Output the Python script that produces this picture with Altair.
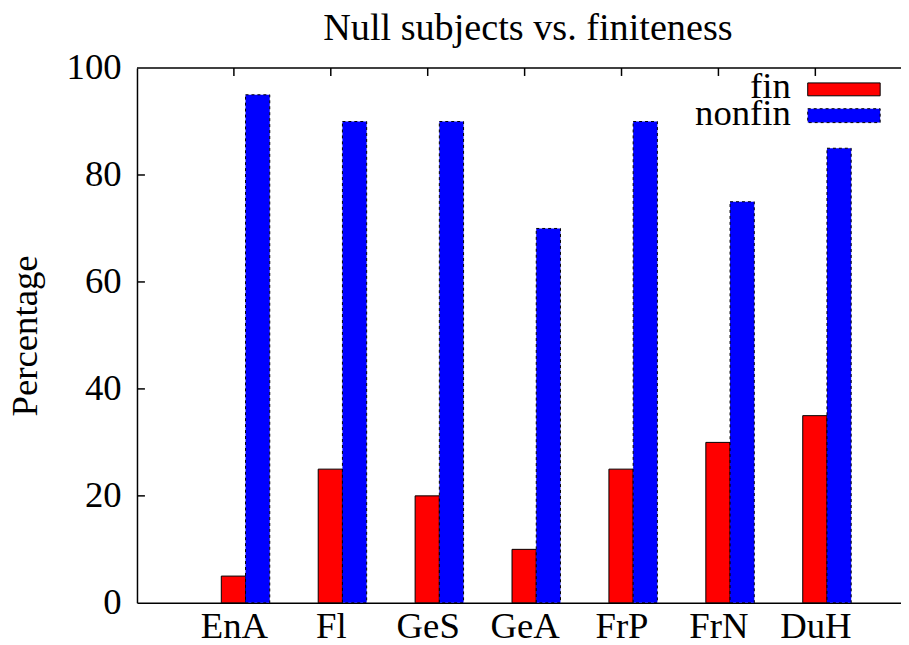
import altair as alt
import pandas as pd

categories = ["EnA", "Fl", "GeS", "GeA", "FrP", "FrN", "DuH"]
fin = [5, 25, 20, 10, 25, 30, 35]
nonfin = [95, 90, 90, 70, 90, 75, 85]
series_names = ["fin", "nonfin"]
series_colors = ["#ff0000", "#0000ff"]
y_ticks = [0, 20, 40, 60, 80, 100]
x_positions = list(range(1, len(categories) + 1))

FONT = "Liberation Serif"
FS = 37
W, H = 770, 539
XMAX = 7.884

rows = []
for i, c in enumerate(categories):
    pos = x_positions[i]
    rows.append(dict(cat=c, series="fin", value=fin[i], x0=pos - 0.13, x1=pos + 0.12))
    rows.append(dict(cat=c, series="nonfin", value=nonfin[i], x0=pos + 0.12, x1=pos + 0.37))
df = pd.DataFrame(rows)

xscale = alt.Scale(domain=[0, XMAX], nice=False, zero=False)
yscale = alt.Scale(domain=[0, 100], nice=False)

label_expr = "[" + ",".join(f"'{c}'" for c in categories) + "][datum.value-1]"

x_axis = alt.Axis(orient="bottom", values=x_positions, labelExpr=label_expr, tickSize=0,
                  domain=True, domainColor="black", domainWidth=1.5, labelFont=FONT,
                  labelFontSize=FS, labelColor="black", labelPadding=6, grid=False, title=None,
                  labelBaseline="top")
y_axis = alt.Axis(orient="left", values=y_ticks, tickSize=0, labelPadding=16, labelFont=FONT,
                  labelFontSize=FS, labelColor="black", domain=True, domainColor="black",
                  domainWidth=1.5, grid=False,
                  title="Percentage", titleFont=FONT, titleFontSize=FS, titleFontWeight="normal",
                  titleColor="black", titleAngle=-90, titleX=-112, titleY=H / 2,
                  titleAlign="center", titleBaseline="middle", labelBaseline="middle")

bars_fin = alt.Chart(df[df.series == "fin"]).mark_rect(
    color=series_colors[0], stroke="black", strokeWidth=1
).encode(
    x=alt.X("x0:Q", scale=xscale, axis=x_axis),
    x2="x1:Q",
    y=alt.Y("value:Q", scale=yscale, axis=y_axis),
    y2=alt.datum(0),
)

bars_nonfin = alt.Chart(df[df.series == "nonfin"]).mark_rect(
    color=series_colors[1], stroke="black", strokeWidth=1, strokeDash=[3, 3]
).encode(
    x=alt.X("x0:Q", scale=xscale, axis=x_axis),
    x2="x1:Q",
    y=alt.Y("value:Q", scale=yscale, axis=y_axis),
    y2=alt.datum(0),
)

top_border = alt.Chart(pd.DataFrame({"b": [0]})).mark_rule(
    color="black", strokeWidth=1.5
).encode(x=alt.value(0), x2=alt.value(W), y=alt.value(0))

top_ticks = alt.Chart(pd.DataFrame({"t": x_positions})).mark_rule(
    color="black", strokeWidth=1.5
).encode(
    x=alt.X("t:Q", scale=xscale, axis=x_axis),
    y=alt.value(0), y2=alt.value(8),
)

left_ticks = alt.Chart(pd.DataFrame({"v": y_ticks[1:-1]})).mark_rule(
    color="black", strokeWidth=1.5
).encode(
    y=alt.Y("v:Q", scale=yscale, axis=y_axis),
    x=alt.value(0), x2=alt.value(8),
)

leg_df = pd.DataFrame({"series": series_names, "color": series_colors})

leg_fin_box = alt.Chart(leg_df.iloc[[0]]).mark_rect(
    color=series_colors[0], stroke="black", strokeWidth=1
).encode(x=alt.value(676), x2=alt.value(749), y=alt.value(15), y2=alt.value(28))
leg_nonfin_box = alt.Chart(leg_df.iloc[[1]]).mark_rect(
    color=series_colors[1], stroke="black", strokeWidth=1, strokeDash=[3, 3]
).encode(x=alt.value(676), x2=alt.value(749), y=alt.value(41), y2=alt.value(55))
leg_fin_txt = alt.Chart(leg_df.iloc[[0]]).mark_text(
    font=FONT, fontSize=FS, align="right", baseline="alphabetic", color="black"
).encode(x=alt.value(659), y=alt.value(30), text="series:N")
leg_nonfin_txt = alt.Chart(leg_df.iloc[[1]]).mark_text(
    font=FONT, fontSize=FS, align="right", baseline="alphabetic", color="black"
).encode(x=alt.value(659), y=alt.value(57), text="series:N")

chart = alt.layer(
    bars_fin, bars_nonfin, top_border, top_ticks, left_ticks,
    leg_fin_box, leg_nonfin_box, leg_fin_txt, leg_nonfin_txt
).properties(
    width=W, height=H,
    title=alt.Title("Null subjects vs. finiteness", font=FONT, fontSize=38.5,
                    fontWeight="normal", color="black", anchor="middle", dx=9, dy=13, offset=14),
    autosize=alt.AutoSizeParams(type="none"),
    padding={"left": 130, "top": 58, "right": 0, "bottom": 40},
    background="white",
).configure_view(stroke=None)

chart.save("out.html", embed_options={"renderer": "svg", "actions": False})
